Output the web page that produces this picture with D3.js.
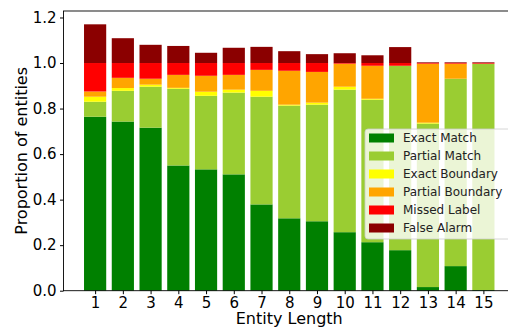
<!DOCTYPE html>
<html>
<head>
<meta charset="utf-8">
<script src="https://cdn.jsdelivr.net/npm/d3@7"></script>
<style>
	body { margin: 0; background: #fff; }
	text { font-family: "DejaVu Sans", sans-serif; fill: #000; }
	.tick text { font-size: 15px; }
	.axisLabel { font-size: 16px; }
	.legend text { font-size: 12px; fill: #222; }
</style>
</head>
<body>
<svg id="svgchart"></svg>
<script>
'use strict'

// entity lengths (x categories):
const lengths = [1, 2, 3, 4, 5, 6, 7, 8, 9, 10, 11, 12, 13, 14, 15]

// proportion of each outcome for every entity length (stacked bottom to top):
const exactMatch      = [0.764, 0.743, 0.716, 0.550, 0.533, 0.511, 0.379, 0.318, 0.305, 0.257, 0.213, 0.178, 0.016, 0.108, 0.003]
const partialMatch    = [0.066, 0.135, 0.180, 0.337, 0.323, 0.359, 0.473, 0.495, 0.512, 0.626, 0.626, 0.810, 0.718, 0.823, 0.994]
const exactBoundary   = [0.022, 0.012, 0.009, 0.004, 0.018, 0.013, 0.026, 0.004, 0.009, 0.013, 0.004, 0.000, 0.004, 0.000, 0.000]
const partialBoundary = [0.023, 0.045, 0.026, 0.057, 0.070, 0.065, 0.092, 0.149, 0.135, 0.101, 0.145, 0.000, 0.259, 0.066, 0.000]
const missedLabel     = [0.125, 0.065, 0.069, 0.052, 0.056, 0.052, 0.030, 0.034, 0.039, 0.003, 0.012, 0.012, 0.003, 0.003, 0.003]
const falseAlarm      = [0.170, 0.109, 0.080, 0.075, 0.045, 0.067, 0.071, 0.052, 0.039, 0.043, 0.034, 0.070, 0.003, 0.003, 0.003]

const seriesNames = ['Exact Match', 'Partial Match', 'Exact Boundary', 'Partial Boundary', 'Missed Label', 'False Alarm']
const seriesValues = [exactMatch, partialMatch, exactBoundary, partialBoundary, missedLabel, falseAlarm]
const seriesColors = ['#008000', '#9acd32', '#ffff00', '#ffa500', '#ff0000', '#8b0000']
const yTicks = [0, 0.2, 0.4, 0.6, 0.8, 1.0, 1.2]

const width = 508, height = 329
const plot = {left: 63.5, top: 11, bottom: 290.7, right: 515} // right spine falls outside the window
const barWidth = 0.8

// build rows for d3.stack:
const table = lengths.map((len, i) => {
	const row = {length: len}
	seriesNames.forEach((name, s) => { row[name] = seriesValues[s][i] })
	return row
})
const stacked = d3.stack().keys(seriesNames)(table)

// scales:
const x = d3.scaleLinear().domain([0.6 - 0.74, 15.4 + 0.74]).range([plot.left, plot.right])
const yMax = d3.max(stacked[stacked.length - 1], (d) => d[1]) * 1.05 // 5% headroom above the tallest bar
const y = d3.scaleLinear().domain([0, yMax]).range([plot.bottom, plot.top])

const svg = d3.select('#svgchart')
	.attr('width', width)
	.attr('height', height)

// bars:
svg.append('g').selectAll('g')
	.data(stacked)
	.enter().append('g')
		.attr('fill', (d, i) => seriesColors[i])
	.selectAll('rect')
	.data((d) => d)
	.enter().append('rect')
		.attr('x', (d) => x(d.data.length - barWidth / 2))
		.attr('width', (d) => x(barWidth) - x(0))
		.attr('y', (d) => y(d[1]))
		.attr('height', (d) => y(d[0]) - y(d[1]))

// frame (spines):
svg.append('rect')
	.attr('x', plot.left)
	.attr('y', plot.top)
	.attr('width', plot.right - plot.left)
	.attr('height', plot.bottom - plot.top)
	.attr('fill', 'none')
	.attr('stroke', '#000')
	.attr('stroke-width', 0.9)

// x axis:
const xAxis = svg.append('g')
	.attr('transform', 'translate(0,' + plot.bottom + ')')
	.call(d3.axisBottom(x).tickValues(lengths).tickFormat(d3.format('d')).tickSize(3.5).tickPadding(3.3))
xAxis.select('.domain').remove()
xAxis.append('text')
	.classed('axisLabel', true)
	.attr('x', x(8))
	.attr('y', 33.5)
	.attr('text-anchor', 'middle')
	.text('Entity Length')

// y axis:
const yAxis = svg.append('g')
	.attr('transform', 'translate(' + plot.left + ',0)')
	.call(d3.axisLeft(y).tickValues(yTicks).tickFormat(d3.format('.1f')).tickSize(3.5).tickPadding(3.5))
yAxis.select('.domain').remove()
yAxis.append('text')
	.classed('axisLabel', true)
	.attr('transform', 'rotate(-90)')
	.attr('x', -(plot.top + plot.bottom) / 2)
	.attr('y', -37)
	.attr('text-anchor', 'middle')
	.text('Proportion of entities')

// legend:
const legend = svg.append('g')
	.classed('legend', true)
	.attr('transform', 'translate(365,129)')
legend.append('rect')
	.attr('width', 150)
	.attr('height', 110)
	.attr('rx', 3)
	.attr('fill', '#fff')
	.attr('fill-opacity', 0.8)
	.attr('stroke', '#ccc')
	.attr('stroke-width', 0.8)
const item = legend.selectAll('.item')
	.data(seriesNames)
	.enter().append('g')
		.classed('item', true)
		.attr('transform', (d, i) => 'translate(4,' + (4.5 + i * 18) + ')')
item.append('rect')
	.attr('width', 25)
	.attr('height', 9)
	.attr('fill', (d, i) => seriesColors[i])
item.append('text')
	.attr('x', 34)
	.attr('y', 4.5)
	.attr('dy', '0.35em')
	.text((d) => d)
</script>
</body>
</html>
